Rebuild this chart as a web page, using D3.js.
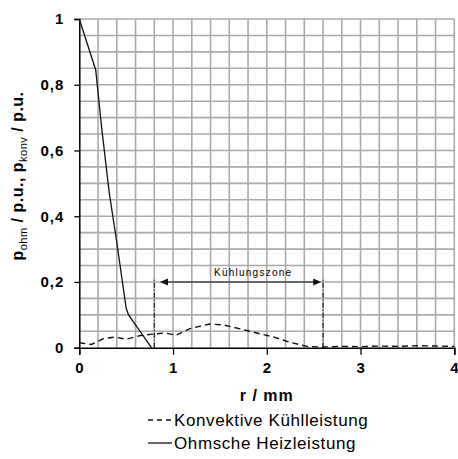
<!DOCTYPE html>
<html>
<head>
<meta charset="utf-8">
<script src="https://cdn.jsdelivr.net/npm/d3@7"></script>
<style>
  html, body { margin: 0; padding: 0; background: #fff; }
  svg { display: block; font-family: "Liberation Sans", Arial, sans-serif; }
</style>
</head>
<body>
<svg id="chart" width="458" height="459"></svg>
<script>
// Radial position r in mm
const konvR = [0, 0.13, 0.26, 0.38, 0.5, 0.65, 0.81, 0.91, 1.03, 1.18, 1.39, 1.54, 1.75, 1.96, 2.07, 2.25, 2.43, 2.6, 2.8, 3.0, 3.2, 3.4, 3.6, 3.8, 4.0];
// Convective cooling power, p.u.
const konvP = [0.015, 0.01, 0.028, 0.032, 0.026, 0.037, 0.042, 0.045, 0.038, 0.058, 0.072, 0.069, 0.055, 0.04, 0.033, 0.016, 0.004, 0.002, 0.004, 0.003, 0.005, 0.004, 0.006, 0.005, 0.004];
// Ohmic heating power, p.u.
const ohmR = [0, 0.175, 0.24, 0.32, 0.4, 0.5, 0.525, 0.77];
const ohmP = [1, 0.845, 0.665, 0.47, 0.32, 0.12, 0.1, 0];

const xTicks = [0, 1, 2, 3, 4];
const yTicks = [0, 0.2, 0.4, 0.6, 0.8, 1];
const yTickLabels = ["0", "0,2", "0,4", "0,6", "0,8", "1"];

// Cooling zone bounds (mm) and marker height (p.u.)
const zoneBounds = [0.8, 2.6];
const zoneArrow = [0.86, 2.58];
const zoneLevel = 0.2;
const zoneTop = 0.207;
const zoneLabel = "Kühlungszone";

const legendLabels = ["Konvektive Kühlleistung", "Ohmsche Heizleistung"];

const svg = d3.select("#chart");
const x = d3.scaleLinear().domain([0, 4]).range([79.3, 454.3]);
const y = d3.scaleLinear().domain([0, 1]).range([347.7, 19]);

// Grid
const grid = svg.append("g").attr("stroke", "#a9a9a9").attr("stroke-width", 1.6);
grid.selectAll("line.v").data(d3.range(1, 21).map(i => i * 0.2)).join("line")
  .attr("x1", d => x(d)).attr("x2", d => x(d)).attr("y1", y(0)).attr("y2", y(1));
grid.selectAll("line.h").data(d3.range(1, 21).map(i => i * 0.05)).join("line")
  .attr("x1", x(0)).attr("x2", x(4)).attr("y1", d => y(d)).attr("y2", d => y(d));

// Axes
const xAxis = d3.axisBottom(x).tickValues(xTicks).tickSize(7).tickFormat(d3.format("d"));
const yAxis = d3.axisLeft(y).tickValues(yTicks).tickSize(5).tickFormat((d, i) => yTickLabels[i]);

const gx = svg.append("g").attr("transform", `translate(0,${y(0)})`).call(xAxis);
const gy = svg.append("g").attr("transform", `translate(${x(0)},0)`).call(yAxis);
[gx, gy].forEach(g => {
  g.select(".domain").attr("stroke", "#000").attr("stroke-width", 1.5);
  g.selectAll(".tick line").attr("stroke", "#000").attr("stroke-width", 1.3);
  g.selectAll(".tick text").attr("fill", "#000")
    .style("font-family", "'Liberation Sans', Arial, sans-serif")
    .style("font-size", "15px").style("font-weight", "bold").style("letter-spacing", "1px");
});
gx.selectAll(".tick text").attr("dy", "1.0em").attr("y", 10);
gy.selectAll(".tick text").attr("x", -15);

// Curves
const line = d3.line().x(d => x(d[0])).y(d => y(d[1]));
svg.append("path").datum(d3.zip(ohmR, ohmP)).attr("d", line)
  .attr("fill", "none").attr("stroke", "#111").attr("stroke-width", 1.3);
svg.append("path").datum(d3.zip(konvR, konvP)).attr("d", line)
  .attr("fill", "none").attr("stroke", "#111").attr("stroke-width", 1.4)
  .attr("stroke-dasharray", "6,4");

// Cooling zone marker
const zone = svg.append("g");
zone.selectAll("line.b").data(zoneBounds).join("line")
  .attr("x1", d => x(d)).attr("x2", d => x(d)).attr("y1", y(0)).attr("y2", y(zoneTop))
  .attr("stroke", "#111").attr("stroke-width", 1.1).attr("stroke-dasharray", "5,2,1,2");
zone.append("line")
  .attr("x1", x(zoneArrow[0]) + 6).attr("x2", x(zoneArrow[1]) - 6)
  .attr("y1", y(zoneLevel)).attr("y2", y(zoneLevel))
  .attr("stroke", "#111").attr("stroke-width", 1.1);
const ay = y(zoneLevel);
zone.append("path")
  .attr("d", `M${x(zoneArrow[0])},${ay} l8,-3.5 l0,7 Z`).attr("fill", "#111");
zone.append("path")
  .attr("d", `M${x(zoneArrow[1])},${ay} l-8,-3.5 l0,7 Z`).attr("fill", "#111");
zone.append("text")
  .attr("x", (x(zoneArrow[0]) + x(zoneArrow[1])) / 2 + 12).attr("y", ay - 6)
  .attr("text-anchor", "middle").attr("font-size", 10)
  .attr("textLength", 77).attr("lengthAdjust", "spacing")
  .text(zoneLabel);

// Axis titles
svg.append("text").attr("x", x(2)).attr("y", 401).attr("text-anchor", "middle")
  .attr("font-size", 16).attr("font-weight", "bold").attr("letter-spacing", "1px")
  .text("r / mm");

const yt = svg.append("text")
  .attr("transform", "translate(23,176) rotate(-90)")
  .attr("text-anchor", "middle").attr("font-size", 16).attr("font-weight", "bold")
  .attr("letter-spacing", "0.5px");
yt.append("tspan").text("p");
yt.append("tspan").attr("font-size", 11).attr("font-weight", "normal").attr("dy", 4).text("ohm");
yt.append("tspan").attr("dy", -4).text(" / p.u., p");
yt.append("tspan").attr("font-size", 11).attr("font-weight", "normal").attr("dy", 4).text("konv");
yt.append("tspan").attr("dy", -4).text(" / p.u.");

// Legend
const leg = svg.append("g");
const rows = [426, 449];
leg.append("line").attr("x1", 148).attr("x2", 171).attr("y1", rows[0] - 6).attr("y2", rows[0] - 6)
  .attr("stroke", "#111").attr("stroke-width", 1.3).attr("stroke-dasharray", "5,4");
leg.append("line").attr("x1", 148).attr("x2", 172).attr("y1", rows[1] - 6).attr("y2", rows[1] - 6)
  .attr("stroke", "#111").attr("stroke-width", 1.3);
leg.selectAll("text").data(legendLabels).join("text")
  .attr("x", 174).attr("y", (d, i) => rows[i])
  .attr("font-size", 17).attr("letter-spacing", "0.6px")
  .text(d => d);
</script>
</body>
</html>
